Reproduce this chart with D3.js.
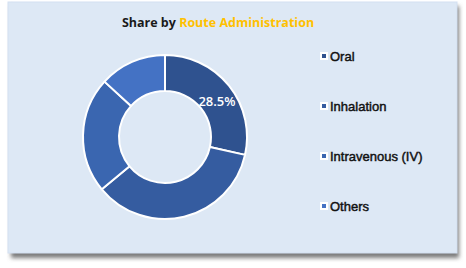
<!DOCTYPE html>
<html>
<head>
<meta charset="utf-8">
<script src="https://cdn.jsdelivr.net/npm/d3@7"></script>
<style>
  html, body { margin: 0; padding: 0; background: #ffffff; }
  svg { display: block; }
</style>
</head>
<body>
<script>
'use strict';

// chart data
var categories = ['Oral', 'Inhalation', 'Intravenous (IV)', 'Others'];
var shares = [28.5, 35.5, 22.8, 13.2];
var sliceColors = ['#2f528f', '#355ca0', '#3a66b0', '#4472c4'];
var labelledSlice = 0; // only the first slice carries a label

var width = 466;
var height = 268;

var svg = d3.select('body')
  .append('svg')
  .attr('width', width)
  .attr('height', height);

// card shadow
var defs = svg.append('defs');
var blur = defs.append('filter')
  .attr('id', 'shadow')
  .attr('x', '-10%').attr('y', '-10%')
  .attr('width', '120%').attr('height', '130%');
blur.append('feGaussianBlur').attr('stdDeviation', 2.2);

svg.append('rect')
  .attr('x', 11)
  .attr('y', 6)
  .attr('width', 448)
  .attr('height', 252)
  .attr('fill', '#7a7a7a')
  .attr('filter', 'url(#shadow)');

svg.append('rect')
  .attr('x', 8)
  .attr('y', 2)
  .attr('width', 449)
  .attr('height', 251)
  .attr('fill', '#dde8f5')
  .attr('stroke', '#d3e0f1')
  .attr('stroke-width', 1);

// title
var title = svg.append('text')
  .attr('x', 218)
  .attr('y', 27)
  .attr('text-anchor', 'middle')
  .style('font-family', 'Open Sans, Liberation Sans, sans-serif')
  .style('font-size', '12.5px')
  .style('font-weight', 'bold');
title.append('tspan').attr('fill', '#1a1a1a').text('Share by ');
title.append('tspan').attr('fill', '#ffc000').text('Route Administration');

// donut
var cx = 165;
var cy = 137;
var outerR = 82;
var innerR = 46;

var pie = d3.pie().sort(null).value(function(d) { return d; });
var arc = d3.arc().innerRadius(innerR).outerRadius(outerR);
var arcs = pie(shares);

var g = svg.append('g').attr('transform', 'translate(' + cx + ',' + cy + ')');

g.selectAll('path')
  .data(arcs)
  .enter()
  .append('path')
  .attr('d', arc)
  .attr('fill', function(d, i) { return sliceColors[i]; })
  .attr('stroke', '#ffffff')
  .attr('stroke-width', 2)
  .attr('stroke-linejoin', 'round');

// excel puts the label near the slice centroid, a touch lower
var labelPos = arc.centroid(arcs[labelledSlice]);
g.append('text')
  .attr('x', labelPos[0] + 2)
  .attr('y', labelPos[1] + 4)
  .attr('text-anchor', 'middle')
  .attr('dy', '0.35em')
  .attr('fill', '#ffffff')
  .style('font-family', 'Open Sans, Liberation Sans, sans-serif')
  .style('font-size', '13px')
  .style('font-weight', 600)
  .text(d3.format('.1f')(shares[labelledSlice]) + '%');

// legend
var legendY = d3.scalePoint()
  .domain(categories)
  .range([56, 206]);

var legend = svg.selectAll('g.legend')
  .data(categories)
  .enter()
  .append('g')
  .attr('class', 'legend')
  .attr('transform', function(d) { return 'translate(320,' + legendY(d) + ')'; });

legend.append('rect')
  .attr('x', 0)
  .attr('y', -4)
  .attr('width', 8)
  .attr('height', 8)
  .attr('fill', '#ffffff');

legend.append('rect')
  .attr('x', 2)
  .attr('y', -2)
  .attr('width', 4)
  .attr('height', 4)
  .attr('fill', function(d, i) { return sliceColors[i]; });

legend.append('text')
  .attr('x', 10)
  .attr('y', 0)
  .attr('dy', '0.35em')
  .attr('fill', '#111111')
  .style('font-family', 'Liberation Sans, Arial, sans-serif')
  .style('font-size', '13px')
  .style('stroke', '#111111')
  .style('stroke-width', '0.45px')
  .text(function(d) { return d; });
</script>
</body>
</html>
